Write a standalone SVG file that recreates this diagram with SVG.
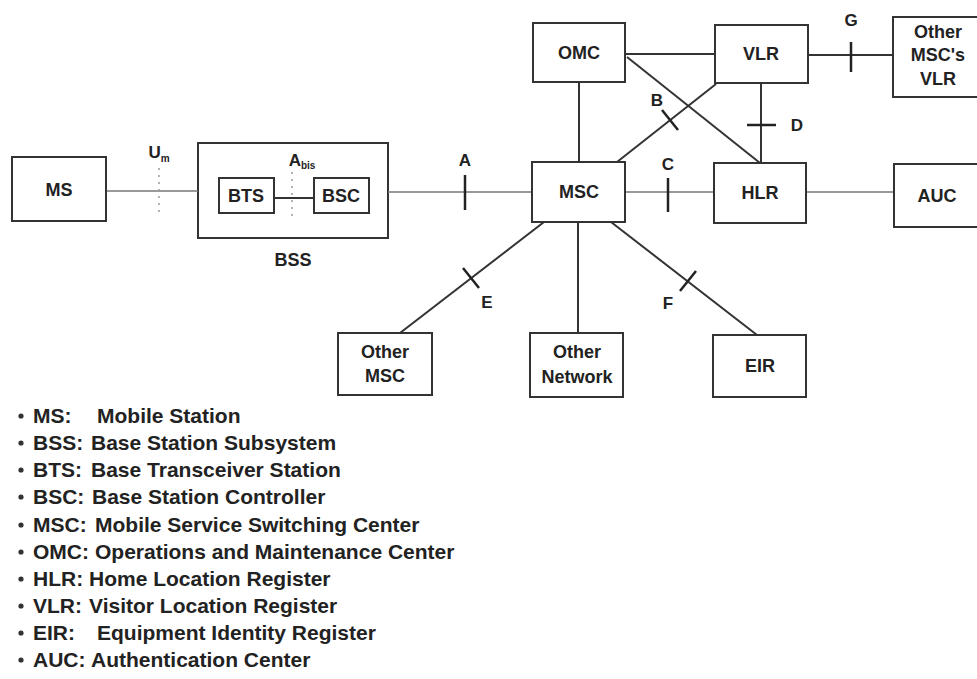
<svg xmlns="http://www.w3.org/2000/svg" width="977" height="679" viewBox="0 0 977 679">
<style>
.box{fill:#fff;stroke:#333;stroke-width:2}
.lbl{font-family:"Liberation Sans",Arial,sans-serif;font-weight:bold;font-size:18px;fill:#222;text-anchor:middle}
.iface{font-family:"Liberation Sans",Arial,sans-serif;font-weight:bold;font-size:17px;fill:#222;text-anchor:middle}
.sub{font-size:10px}
.ln{stroke:#333;stroke-width:2;fill:none}
.lt{stroke:#777;stroke-width:1.6;fill:none}
.dot{stroke:#999;stroke-width:1.5;stroke-dasharray:2 5;fill:none}
.tick{stroke:#222;stroke-width:2.5}
.leg{font-family:"Liberation Sans",Arial,sans-serif;font-weight:bold;font-size:21px;fill:#222}
</style>
<rect width="977" height="679" fill="#fff"/>
<g id="BSS"><rect class="box" x="198" y="143" width="190" height="95"/><text class="lbl" x="293" y="266">BSS</text></g>
<g id="connectors">
<line class="lt" x1="106" y1="191" x2="198" y2="191"/>
<line class="dot" x1="159" y1="168" x2="159" y2="212"/>
<line class="ln" x1="274" y1="198" x2="314" y2="198"/>
<line class="dot" x1="292" y1="172" x2="292" y2="218"/>
<line class="lt" x1="388" y1="192" x2="532" y2="192"/>
<line class="tick" x1="465" y1="175" x2="465" y2="210"/>
<line class="lt" x1="625" y1="192" x2="714" y2="192"/>
<line class="tick" x1="668" y1="178" x2="668" y2="212"/>
<line class="lt" x1="806" y1="192" x2="894" y2="192"/>
<line class="ln" x1="625" y1="54" x2="715" y2="54"/>
<line class="ln" x1="579" y1="82" x2="579" y2="162"/>
<line class="ln" x1="808" y1="55" x2="893" y2="55"/>
<line class="tick" x1="851" y1="42" x2="851" y2="72"/>
<line class="ln" x1="761" y1="83" x2="761" y2="163"/>
<line class="tick" x1="747" y1="125" x2="776" y2="125"/>
<line class="ln" x1="627" y1="57" x2="760" y2="163"/>
<line class="ln" x1="716" y1="84" x2="617" y2="162"/>
<line class="tick" x1="662" y1="110" x2="678" y2="130"/>
<line class="ln" x1="544" y1="222" x2="400" y2="333"/>
<line class="tick" x1="463" y1="268" x2="479" y2="288"/>
<line class="ln" x1="578" y1="222" x2="578" y2="333"/>
<line class="ln" x1="611" y1="222" x2="757" y2="335"/>
<line class="tick" x1="680" y1="291" x2="696" y2="271"/>
<text class="iface" x="159" y="158">U<tspan class="sub" dy="4">m</tspan></text>
<text class="iface" x="302" y="166">A<tspan class="sub" dy="3">bis</tspan></text>
<text class="iface" x="465" y="166">A</text>
<text class="iface" x="668" y="170">C</text>
<text class="iface" x="657" y="106">B</text>
<text class="iface" x="797" y="131">D</text>
<text class="iface" x="851" y="26">G</text>
<text class="iface" x="487" y="308">E</text>
<text class="iface" x="668" y="309">F</text>
</g>
<g id="MS"><rect class="box" x="12" y="157" width="94" height="64"/><text class="lbl" x="59" y="196">MS</text></g>
<g id="BTS"><rect class="box" x="219" y="178" width="55" height="35"/><text class="lbl" x="246" y="202">BTS</text></g>
<g id="BSC"><rect class="box" x="314" y="178" width="55" height="35"/><text class="lbl" x="341" y="202">BSC</text></g>
<g id="OMC"><rect class="box" x="533" y="23" width="92" height="59"/><text class="lbl" x="579" y="59">OMC</text></g>
<g id="VLR"><rect class="box" x="715" y="25" width="93" height="58"/><text class="lbl" x="761" y="60">VLR</text></g>
<g id="OtherVLR"><rect class="box" x="893" y="17" width="95" height="80"/><text class="lbl" x="938" y="38">Other</text><text class="lbl" x="938" y="61">MSC's</text><text class="lbl" x="938" y="85">VLR</text></g>
<g id="MSC"><rect class="box" x="532" y="162" width="93" height="60"/><text class="lbl" x="579" y="198">MSC</text></g>
<g id="HLR"><rect class="box" x="714" y="163" width="92" height="60"/><text class="lbl" x="760" y="199">HLR</text></g>
<g id="AUC"><rect class="box" x="894" y="164" width="95" height="63"/><text class="lbl" x="937" y="202">AUC</text></g>
<g id="OtherMSC"><rect class="box" x="338" y="333" width="94" height="62"/><text class="lbl" x="385" y="358">Other</text><text class="lbl" x="385" y="382">MSC</text></g>
<g id="OtherNetwork"><rect class="box" x="530" y="333" width="93" height="64"/><text class="lbl" x="577" y="358">Other</text><text class="lbl" x="577" y="383">Network</text></g>
<g id="EIR"><rect class="box" x="713" y="335" width="93" height="62"/><text class="lbl" x="760" y="372">EIR</text></g>
<g id="legend">
<g fill="#333"><circle cx="21" cy="416" r="2.6"/><circle cx="21" cy="443" r="2.6"/><circle cx="21" cy="470" r="2.6"/><circle cx="21" cy="497" r="2.6"/><circle cx="21" cy="525" r="2.6"/><circle cx="21" cy="552" r="2.6"/><circle cx="21" cy="579" r="2.6"/><circle cx="21" cy="606" r="2.6"/><circle cx="21" cy="633" r="2.6"/><circle cx="21" cy="660" r="2.6"/></g>
<text class="leg" x="33" y="423">MS:</text><text class="leg" x="97" y="423">Mobile Station</text>
<text class="leg" x="33" y="450">BSS:</text><text class="leg" x="91" y="450">Base Station Subsystem</text>
<text class="leg" x="33" y="477">BTS:</text><text class="leg" x="91" y="477">Base Transceiver Station</text>
<text class="leg" x="33" y="504">BSC:</text><text class="leg" x="92" y="504">Base Station Controller</text>
<text class="leg" x="33" y="532">MSC:</text><text class="leg" x="95" y="532">Mobile Service Switching Center</text>
<text class="leg" x="33" y="559">OMC:</text><text class="leg" x="95" y="559">Operations and Maintenance Center</text>
<text class="leg" x="33" y="586">HLR:</text><text class="leg" x="89" y="586">Home Location Register</text>
<text class="leg" x="33" y="613">VLR:</text><text class="leg" x="89" y="613">Visitor Location Register</text>
<text class="leg" x="33" y="640">EIR:</text><text class="leg" x="97" y="640">Equipment Identity Register</text>
<text class="leg" x="33" y="667">AUC:</text><text class="leg" x="91" y="667">Authentication Center</text>
</g>
</svg>
